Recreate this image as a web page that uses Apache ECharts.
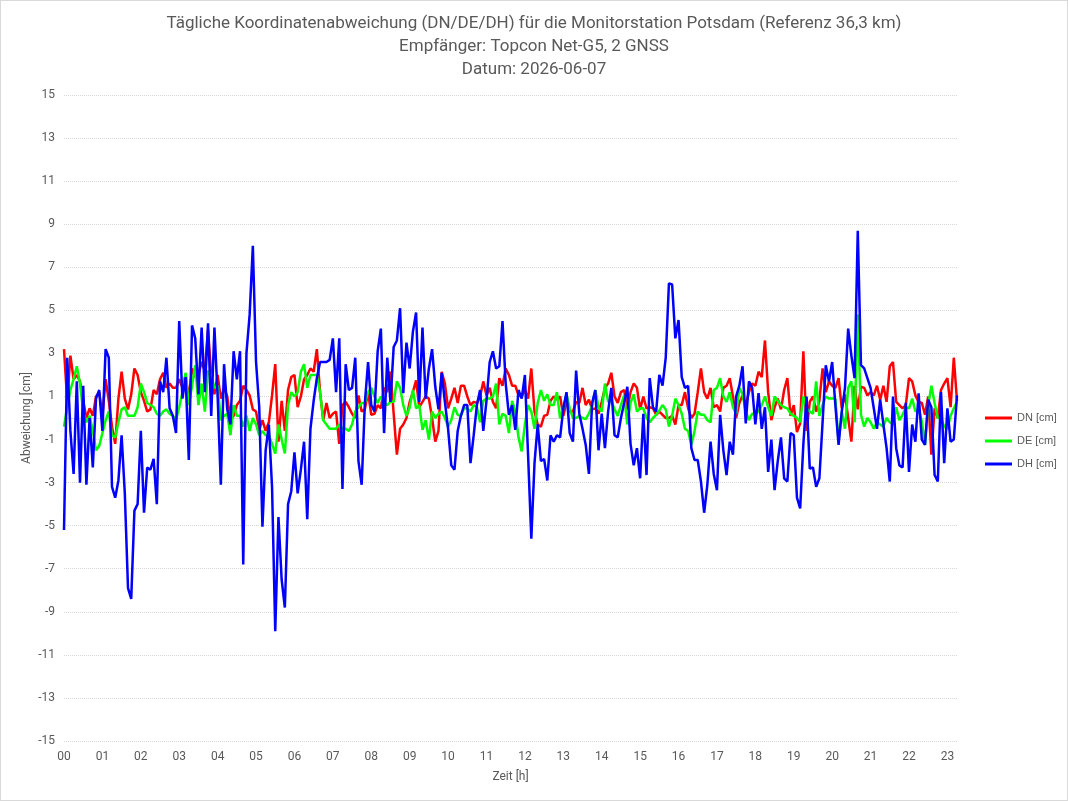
<!DOCTYPE html>
<html>
<head>
<meta charset="utf-8">
<script src="https://cdn.jsdelivr.net/npm/echarts@6/dist/echarts.min.js"></script>
<style>
  html, body { margin: 0; padding: 0; background: #fff; }
  #chart { width: 1068px; height: 801px; box-sizing: border-box; border: 1px solid #d9d9d9; }
</style>
</head>
<body>
<div id="chart"></div>
<script>
// Messwerte alle 5 Minuten (0:00 bis 23:15), Werte in cm
const dn = [
  3.2, 0.8, 2.9, 1.8, 2.0, 1.7, 0.8, 0.0, 0.45, 0.1, 1.0, 1.2, 0.1, 1.8, 0.8, -0.4, -1.2, 0.9, 2.15, 0.9,
  0.4, 1.1, 2.3, 2.0, 1.2, 0.8, 0.3, 0.4, 1.3, 1.1, 1.8, 2.1, 1.4, 1.6, 1.4, 1.4, 1.8, 1.4, 2.0, 0.9,
  2.3, 1.9, 2.0, 2.6, 2.2, 4.1, 2.0, 1.1, 2.0, 0.9, 1.4, 1.0, -0.1, 0.1, 0.6, 0.8, 1.5, 1.3, 1.05, 0.4,
  0.3, -0.55, -0.1, -0.6, -0.2, 1.05, 2.5, -1.1, 0.8, -0.6, 1.3, 1.9, 2.0, 0.5, 1.0, 1.8, 2.0, 2.3, 2.15, 3.2,
  1.2, -0.1, 0.7, 0.0, 0.2, 0.3, -1.2, 0.6, 0.75, 0.5, 0.2, 0.0, 1.05, 0.3, 0.4, 1.2, 0.15, 0.2, 0.6, 0.45,
  1.4, 1.2, 2.15, 0.2, -1.7, -0.5, -0.3, 0.0, 0.75, 1.2, 1.75, 0.5, 0.75, 1.0, 0.9, 0.0, -1.1, -0.6, 2.15, 1.6,
  0.45, 0.9, 1.4, 0.7, 1.5, 1.5, 1.0, 0.6, 0.75, 0.7, 1.0, 1.7, 1.05, 1.4, 0.75, 0.45, 1.85, 1.5, 2.3, 2.0,
  1.5, 1.5, 1.05, 1.0, 1.3, 0.9, 2.3, 0.3, -0.3, -0.4, 0.1, 0.15, 0.8, 1.0, 0.85, 1.0, 0.1, 0.75, 0.3, 0.3,
  0.75, 0.7, 1.4, 0.6, 0.85, 0.4, 0.45, 0.2, 0.75, 1.4, 1.6, 2.1, 1.0, 0.7, 1.2, 1.3, 0.4, 1.2, 1.6, 1.4,
  0.4, 1.0, 0.45, 0.5, 0.45, 0.15, 0.3, 0.15, 0.0, 0.0, 0.1, -0.3, 0.6, 0.6, 1.2, 0.45, 0.0, 0.2, 1.2, 2.3,
  1.2, 0.9, 1.4, 0.5, 0.6, 0.3, 1.4, 1.5, 1.85, 1.0, 0.0, 0.7, 1.05, 0.6, 1.2, 1.6, 1.5, 2.15, 1.9, 3.6,
  1.2, -0.1, 0.5, 0.9, 0.4, 1.3, 1.85, 0.1, 0.6, -0.65, -0.25, 3.1, -0.6, 0.75, 1.0, 0.3, 0.8, 2.3, 1.2, 1.7,
  1.5, 1.4, 1.85, 0.45, 1.1, 0.0, -1.1, 1.5, 0.4, 1.45, 1.4, 1.05, 1.2, 1.05, 1.5, 0.85, 1.5, 0.75, 2.4, 2.6,
  0.75, 0.6, 0.45, 0.6, 1.85, 1.7, 1.05, 0.75, 0.7, 0.15, 1.0, -1.7, 0.45, 0.0, 1.3, 1.6, 1.85, 0.5, 2.8, 0.8
]
const de = [
  -0.4, 0.5, 1.3, 1.8, 2.4, 1.6, 0.3, -0.2, 0.1, -0.6, -1.5, -1.3, -0.7, -0.1, 0.3, -0.8, -0.9, -0.2, 0.4, 0.5,
  0.1, 0.1, 0.1, 0.5, 1.6, 1.2, 0.7, 0.6, 0.5, 0.2, 0.1, 0.3, 0.4, 0.2, 0.1, -0.1, 0.5, 1.2, 2.1, 0.6,
  1.5, 2.45, 0.6, 1.6, 0.3, 2.2, 2.0, 1.4, 1.5, -0.1, 0.1, 0.2, -0.8, 0.6, 0.1, 0.1, -0.4, 0.1, -0.6, 0.0,
  -0.3, -0.8, -0.6, -0.8, -0.8, -1.2, -1.65, -0.3, -1.0, -1.65, 0.6, 1.2, 1.0, 1.2, 2.15, 2.5, 1.4, 2.0, 2.0, 2.0,
  1.2, -0.1, -0.3, -0.5, -0.5, -0.5, -0.3, -0.5, -0.5, -0.6, -0.3, 0.3, 0.5, 0.7, 0.7, 1.2, 1.4, 1.0, 0.7, 1.0,
  0.7, 0.6, 0.75, 0.75, 1.7, 1.4, 0.6, 0.1, 0.5, 1.3, 0.45, 0.6, -0.55, -0.1, -1.0, 0.3, 0.0, 0.2, 0.3, 0.0,
  -0.4, -0.1, 0.5, 0.15, 0.1, 0.45, 0.45, 0.3, 0.6, 0.5, -0.2, 0.8, 0.9, 0.9, 1.0, 1.6, -0.3, 0.2, 0.1, -0.7,
  0.8, 0.3, -0.9, -1.55, -0.3, 0.6, 0.3, -0.5, 0.7, 1.3, 0.8, 1.1, 0.6, 0.6, 1.2, 0.0, 0.45, 1.1, 0.45, 0.0,
  0.0, 0.1, 0.0, -0.05, 0.2, 0.6, 1.3, 0.5, 0.3, 1.6, 0.75, 0.8, 0.4, 0.1, 0.6, 1.05, -0.3, 0.7, 1.1, 0.3,
  0.45, 0.45, 0.0, -0.2, 0.0, 0.15, 0.35, 0.6, 0.4, -0.4, 0.1, 0.9, 0.6, 0.2, -0.5, -0.6, -1.25, -0.6, 0.3, 0.15,
  0.15, -0.1, -0.2, 1.3, 1.4, 1.85, 1.0, 0.75, 1.2, 0.5, 0.2, 1.4, 1.1, 0.3, -0.1, 0.2, 0.2, 0.3, 0.6, 1.0,
  0.5, 0.1, 1.0, 0.8, 0.6, 0.5, 0.45, 0.2, 0.1, 0.0, -0.2, 1.0, 0.45, 0.3, 0.2, 1.7, 0.1, 0.6, 1.0, 0.9,
  0.9, 0.9, -1.1, 0.3, -0.5, 1.4, 1.7, -0.2, 4.8, 0.15, -0.4, 0.0, -0.2, -0.5, -0.2, -0.3, -0.4, 0.0, -0.2, -0.3,
  0.5, -0.1, 0.15, 0.5, 0.45, 0.9, 0.3, 0.45, -0.15, -1.25, 0.6, 1.5, 0.7, 0.0, 0.0, -0.4, -0.5, 0.1, 0.45, 0.75
]
const dh = [
  -5.2, 2.8, -0.6, -2.6, 1.7, -3.0, 1.5, -3.1, 0.0, -2.3, 0.9, 1.3, -0.6, 3.2, 2.8, -3.2, -3.7, -2.9, -0.8, -3.5,
  -7.9, -8.4, -4.3, -4.0, -0.6, -4.4, -2.3, -2.4, -1.9, -4.0, 1.7, 1.2, 2.8, 0.45, 0.1, -0.7, 4.5, 0.9, 1.9, -1.95,
  4.3, 3.7, 1.1, 4.2, 1.2, 4.4, 0.1, 4.2, 1.0, -3.1, 2.5, 0.4, -0.3, 3.1, 1.8, 3.1, -6.8, 3.0, 4.8, 8.0,
  2.6, 0.5, -5.05, -1.5, -0.3, -3.2, -9.9, -4.6, -7.5, -8.8, -4.0, -3.4, -1.6, -3.5, -2.4, -1.1, -4.7, -0.5, 0.8, 1.85,
  2.6, 2.6, 2.6, 2.7, 3.7, 1.2, 3.7, -3.3, 2.5, 1.3, 1.4, 2.8, -2.0, -3.1, 0.7, 2.6, 0.6, 0.3, 3.1, 4.15,
  -0.7, 2.8, 0.75, 3.3, 3.6, 5.1, 1.15, 3.5, 2.3, 4.0, 4.9, 0.75, 4.2, 0.9, 2.3, 3.2, 1.45, 0.4, 2.1, 0.75,
  -0.5, -2.2, -2.4, -0.6, 0.1, 0.6, 0.6, -2.1, -0.8, 0.6, 1.3, -0.6, 0.8, 2.6, 3.1, 2.3, 2.4, 4.5, 1.6, 0.15,
  0.6, -0.55, 1.3, 0.9, 2.0, -1.75, -5.6, -2.1, -0.3, -2.0, -1.9, -2.9, -0.8, -1.1, -0.8, -0.9, 0.45, 1.2, -0.7, -1.1,
  2.2, 0.2, -0.5, -1.25, -2.6, 0.7, 1.3, -1.5, 0.2, -1.4, 0.3, 1.4, -0.8, -0.9, 0.0, 0.7, 1.45, -1.2, -2.2, -1.4,
  -2.8, 0.2, -2.65, 1.85, 0.5, 0.3, 2.0, 1.5, 2.8, 6.25, 6.2, 3.7, 4.55, 1.9, 1.4, 1.5, -1.4, -1.95, -1.95, -2.95,
  -4.4, -3.1, -1.1, -2.6, -3.35, 0.15, -1.5, -2.65, -1.1, -1.7, 1.0, 1.5, 2.4, -0.25, 1.7, 1.4, -0.3, 1.15, -0.5, 0.5,
  -2.5, -1.0, -3.35, -2.0, -0.9, -2.8, -2.95, -0.7, -0.8, -3.7, -4.2, -1.2, 1.0, -2.35, -2.3, -3.2, -2.8, -0.2, 2.45, 1.7,
  2.6, 0.6, -1.25, 0.3, 1.4, 4.15, 2.9, 1.85, 8.7, 2.45, 2.3, 1.85, 1.4, 0.45, -0.5, 0.85, -0.3, -1.4, -2.95, 1.0,
  -1.4, -2.2, -2.3, 0.7, -2.5, -0.3, -1.1, 1.15, -1.0, -1.25, 0.85, 0.5, -2.65, -2.95, 1.2, -2.1, 0.45, -1.1, -1.0, 1.05
]

// Zeitachse: 5-Minuten-Schritte, Beschriftung nur volle Stunden
const zeiten = []
for (let i = 0; i < dh.length; i++) {
  const m = i * 5
  zeiten.push(String(Math.floor(m / 60)).padStart(2, '0') + ':' + String(m % 60).padStart(2, '0'))
}

const grau = '#595959'
const schrift = 'Roboto, "Open Sans", sans-serif'

const myChart = echarts.init(document.getElementById('chart'))
myChart.setOption({
  animation: false,
  title: {
    text: 'Tägliche Koordinatenabweichung (DN/DE/DH) für die Monitorstation Potsdam (Referenz 36,3 km)\nEmpfänger: Topcon Net-G5, 2 GNSS\nDatum: 2026-06-07',
    left: 'center',
    top: 6,
    textStyle: { color: grau, fontSize: 17, fontWeight: 'normal', lineHeight: 23, fontFamily: schrift }
  },
  legend: {
    orient: 'vertical',
    left: 979,
    top: 405,
    icon: 'rect',
    itemWidth: 27,
    itemHeight: 3,
    itemGap: 9,
    textStyle: { color: grau, fontSize: 11, lineHeight: 14, fontFamily: '"Liberation Sans", sans-serif' },
    data: ['DN [cm]', 'DE [cm]', 'DH [cm]']
  },
  grid: { left: 63, right: 110, top: 94, bottom: 59 },
  xAxis: [
    {
      type: 'category',
      data: zeiten,
      boundaryGap: false,
      name: 'Zeit [h]',
      nameLocation: 'middle',
      nameGap: 30,
      nameTextStyle: { color: grau, fontSize: 12, fontFamily: schrift },
      axisLine: { show: false, onZero: false },
      axisTick: { show: false },
      axisLabel: {
        color: grau,
        fontSize: 12,
        fontFamily: schrift,
        margin: 10,
        interval: (idx) => idx % 12 === 0,
        formatter: (v) => v.slice(0, 2)
      },
      splitLine: { show: false }
    },
    {
      // nur die Nulllinie
      type: 'category',
      data: zeiten,
      boundaryGap: false,
      position: 'bottom',
      axisLine: { show: true, onZero: true, lineStyle: { color: '#d9d9d9', width: 1 } },
      axisTick: { show: false },
      axisLabel: { show: false },
      splitLine: { show: false }
    }
  ],
  yAxis: {
    type: 'value',
    min: -15,
    max: 15,
    interval: 2,
    name: 'Abweichung [cm]',
    nameLocation: 'middle',
    nameGap: 31,
    nameMoveOverlap: false,
    nameTextStyle: { color: grau, fontSize: 12, fontFamily: schrift },
    axisLine: { show: false },
    axisTick: { show: false },
    axisLabel: { color: grau, fontSize: 12, fontFamily: schrift, margin: 9 },
    splitLine: { show: true, lineStyle: { color: '#d9d9d9', type: 'dotted', width: 1 } }
  },
  series: [
    { name: 'DN [cm]', type: 'line', data: dn, showSymbol: false, symbol: 'none', color: '#ff0000', lineStyle: { width: 2.5 } },
    { name: 'DE [cm]', type: 'line', data: de, showSymbol: false, symbol: 'none', color: '#00ff00', lineStyle: { width: 2.5 } },
    { name: 'DH [cm]', type: 'line', data: dh, showSymbol: false, symbol: 'none', color: '#0000ff', lineStyle: { width: 2.5 } }
  ]
})
</script>
</body>
</html>
